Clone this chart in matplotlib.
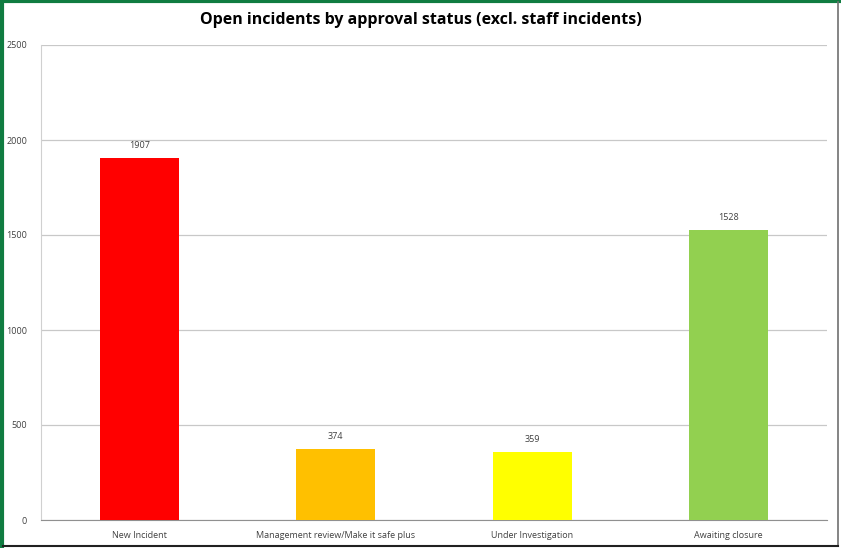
import matplotlib
matplotlib.use("Agg")
import matplotlib.pyplot as plt
from matplotlib.lines import Line2D

categories = ["New Incident", "Management review/Make it safe plus", "Under Investigation", "Awaiting closure"]
values = [1907, 374, 359, 1528]
colors = ["#FF0000", "#FFC000", "#FFFF00", "#92D050"]
yticks = [0, 500, 1000, 1500, 2000, 2500]

plt.rcParams['font.family'] = ['Open Sans', 'DejaVu Sans']

fig = plt.figure(figsize=(8.41, 5.48), dpi=100)
ax = fig.add_axes([41/841, 28/548, 786/841, 475/548])

x = list(range(len(categories)))
bars = ax.bar(x, values, width=0.4, color=colors, zorder=3)
for xi, v in zip(x, values):
    ax.text(xi, v + 40, str(v), ha='center', va='bottom', fontsize=6.5, color='#404040')

ax.set_xlim(-0.5, len(categories) - 0.5)
ax.set_ylim(0, 2500)
ax.set_yticks(yticks)
ax.set_yticklabels([str(t) for t in yticks], fontsize=6.5, color='#404040')
ax.set_xticks(x)
ax.set_xticklabels(categories, fontsize=6.5, color='#404040')
ax.tick_params(axis='both', length=0, pad=8)
ax.tick_params(axis='y', pad=10)
ax.grid(axis='y', color='#C8C8C8', linewidth=0.9, zorder=0)
for s in ['top', 'right']:
    ax.spines[s].set_visible(False)
ax.spines['left'].set_color('#D0D0D0')
ax.spines['bottom'].set_color('#909090')

fig.text(0.5, 1 - 20/548, "Open incidents by approval status (excl. staff incidents)",
         ha='center', va='center', fontsize=11.5, fontweight='bold', color='black')

# frame borders
fig.add_artist(Line2D([0, 1], [1 - 1/548, 1 - 1/548], transform=fig.transFigure, color='#107C41', linewidth=3))
fig.add_artist(Line2D([1.5/841, 1.5/841], [0, 1], transform=fig.transFigure, color='#107C41', linewidth=3))
fig.add_artist(Line2D([837.5/841, 837.5/841], [3/548, 1 - 2/548], transform=fig.transFigure, color='#707070', linewidth=1.2))
fig.add_artist(Line2D([3/841, 838/841], [2.5/548, 2.5/548], transform=fig.transFigure, color='#202020', linewidth=1.5))

fig.savefig("out.png", dpi=100)
